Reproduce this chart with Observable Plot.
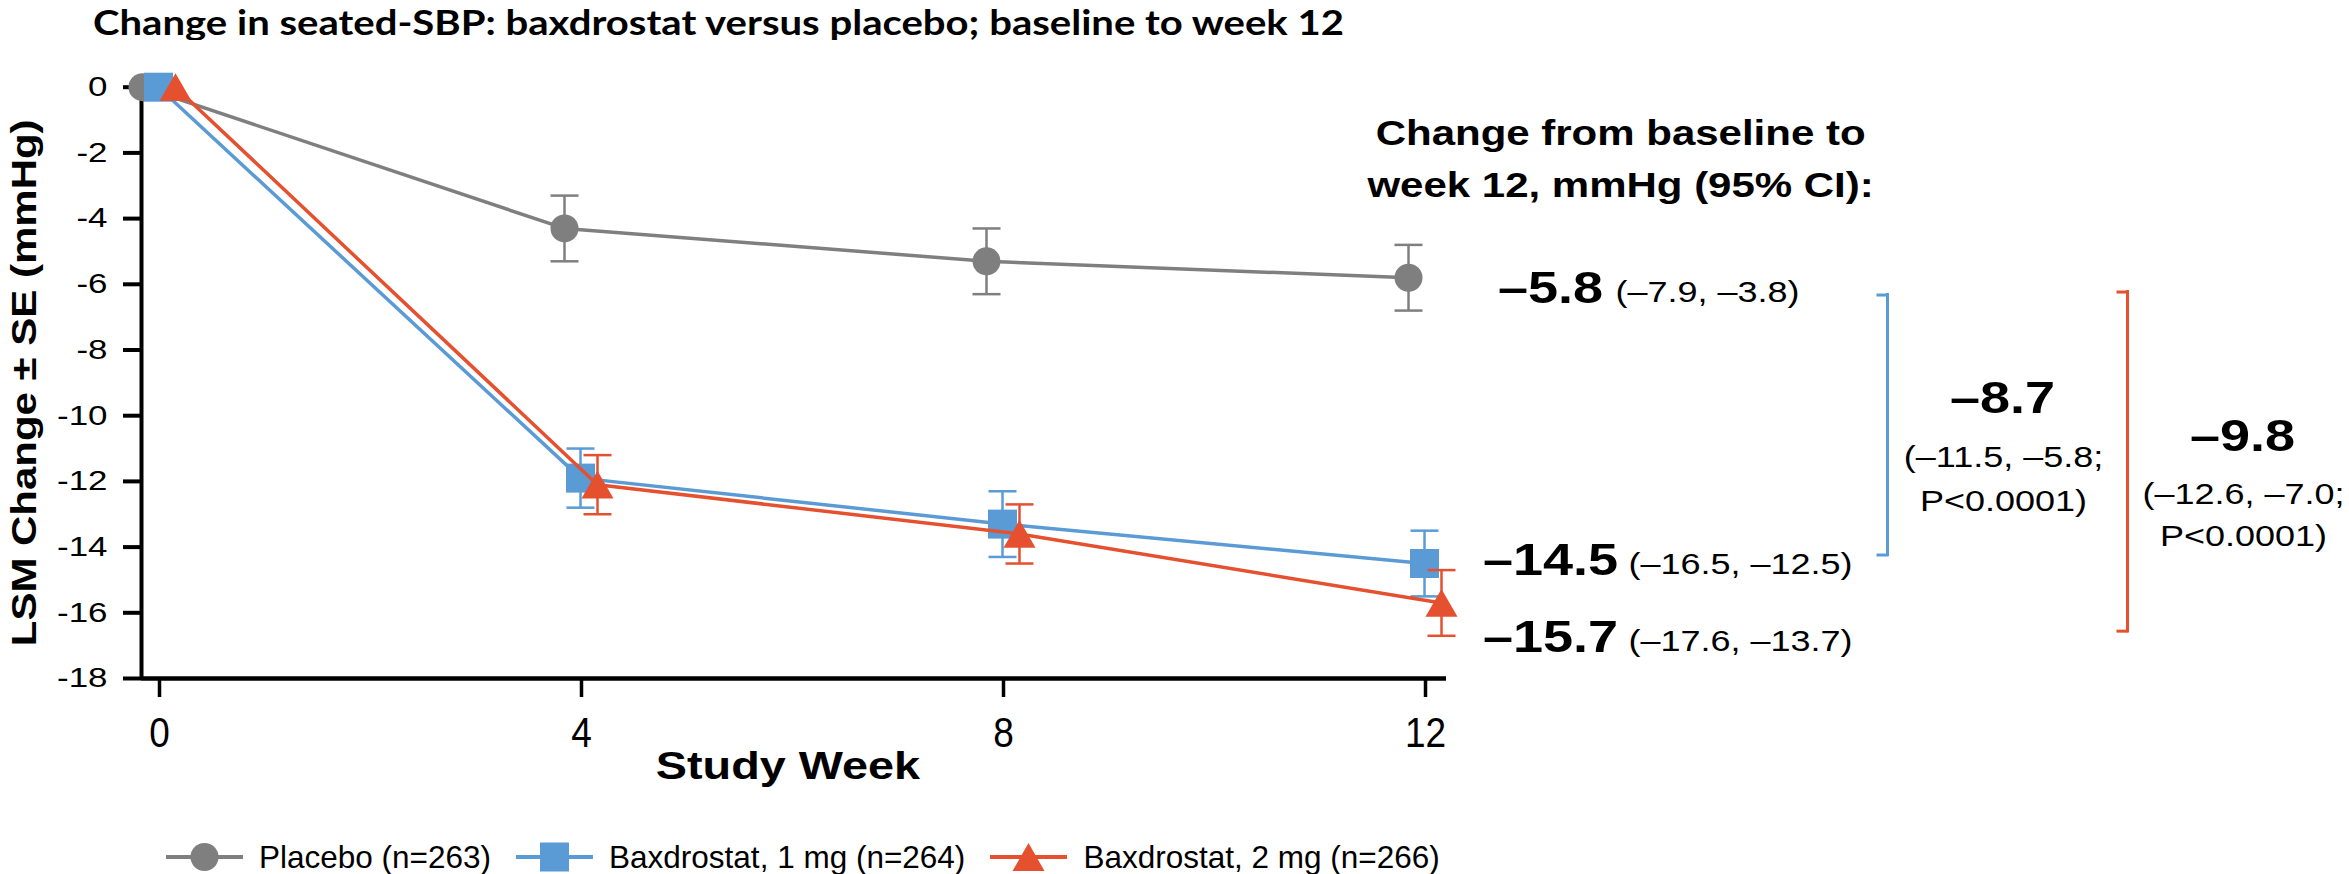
<!DOCTYPE html>
<html><head><meta charset="utf-8">
<script src="https://cdn.jsdelivr.net/npm/d3@7"></script>
<script src="https://cdn.jsdelivr.net/npm/@observablehq/plot@0.6"></script>
<style>
html,body{margin:0;padding:0;background:#fff;}
#wrap{position:relative;width:2349px;height:874px;overflow:hidden;font-family:'Liberation Sans',Arial,sans-serif;color:#000;}
#title{position:absolute;left:93px;top:0px;font-family:Lato,'Liberation Sans',sans-serif;font-weight:700;font-size:35px;line-height:42px;white-space:nowrap;transform-origin:0 0;}
#chart{position:absolute;left:0;top:40px;}
#legend{position:absolute;left:166px;top:837px;height:40px;display:flex;align-items:center;font-size:31.5px;white-space:nowrap;}
.item{display:flex;align-items:center;margin-right:25px;}
.item svg{margin-right:16px;display:block;}
</style></head><body>
<div id="wrap">
<div id="title">Change in seated-SBP: baxdrostat versus placebo; baseline to week 12</div>
<div id="chart"></div>
<div id="legend"></div>
</div>
<script>
// ---- data ----
const weeks = [0, 4, 8, 12];
const placeboLSM = [0, -4.3, -5.3, -5.8];
const placeboSE  = [0, 1.0, 1.0, 1.0];
const bax1LSM    = [0, -11.9, -13.3, -14.5];
const bax1SE     = [0, 0.9, 1.0, 1.0];
const bax2LSM    = [0, -12.1, -13.6, -15.7];
const bax2SE     = [0, 0.9, 0.9, 1.0];
const seriesNames = ["Placebo (n=263)", "Baxdrostat, 1 mg (n=264)", "Baxdrostat, 2 mg (n=266)"];
const week12CI = [[-7.9, -3.8], [-16.5, -12.5], [-17.6, -13.7]];
const diffVsPlacebo = [-8.7, -9.8];
const diffCI = [[-11.5, -5.8], [-12.6, -7.0]];
const diffP = ["P<0.0001", "P<0.0001"];
const yTicks = [0, -2, -4, -6, -8, -10, -12, -14, -16, -18];
const xTicks = [0, 4, 8, 12];
const headerText = "Change from baseline to\nweek 12, mmHg (95% CI):";
const xTitle = "Study Week";
const yTitle = "LSM Change ± SE (mmHg)";

// ---- styles ----
const colors = ["#7F7F7F", "#5B9BD5", "#E5502F"];
const symbols = ["circle", "square", "triangle"];
const radii = [14, 29 / Math.sqrt(Math.PI), 11.9];
const symDy = [0, 0, 4.6];
const offsets = [-17, -1, 16];

const lsm = [placeboLSM, bax1LSM, bax2LSM];
const se = [placeboSE, bax1SE, bax2SE];
const series = lsm.map((vals, s) => weeks.map((w, i) => ({
  week: w, value: vals[i], se: se[s][i], lo: vals[i] - se[s][i], hi: vals[i] + se[s][i]
})));

const fmt = d => (d < 0 ? "\u2013" : "") + Math.abs(d).toFixed(1);
const capSymbol = {draw(ctx, size) { const w = Math.sqrt(size); ctx.moveTo(-w / 2, 0); ctx.lineTo(w / 2, 0); }};
const capR = 28 / Math.sqrt(Math.PI);

const xDomain = [-0.1706, 12.199];
const lastWeek = weeks[weeks.length - 1];

// horizontal glyph stretch per text group (the reference uses wide/condensed faces)
const stretch = {"y-axis tick label": 1.27, "x-axis tick label": 0.88, "ytitle": 1.04, "xtitle": 1.09, "header": 1.2, "value": 1.1, "ci": 1.2};

const marks = [];
// axes
marks.push(Plot.ruleY([yTicks[yTicks.length - 1]], {stroke: "#000", strokeWidth: 4.5}));
marks.push(Plot.ruleX([xDomain[0]], {y1: yTicks[0], y2: yTicks[yTicks.length - 1], stroke: "#000", strokeWidth: 4}));
marks.push(Plot.axisY(yTicks, {tickSize: 18, tickPadding: 16, strokeWidth: 4, fontSize: 27.5, tickFormat: d => String(d), label: null}));
marks.push(Plot.axisX(xTicks, {tickSize: 19, tickPadding: 20, strokeWidth: 3.5, fontSize: 42, tickFormat: d => String(d), label: null}));
marks.push(Plot.text([yTitle], {ariaLabel: "ytitle", text: d => d, frameAnchor: "left", textAnchor: "middle", lineAnchor: "middle", rotate: -90, dx: -117, fontSize: 35, fontWeight: "bold"}));
marks.push(Plot.text([xTitle], {ariaLabel: "xtitle", text: d => d, frameAnchor: "bottom", textAnchor: "middle", lineAnchor: "middle", dx: -6, dy: 88, fontSize: 39, fontWeight: "bold"}));

// series
series.forEach((rows, s) => {
  const eb = rows.filter(d => d.se > 0);
  marks.push(Plot.ruleX(eb, {x: "week", y1: "lo", y2: "hi", dx: offsets[s], stroke: colors[s], strokeWidth: 2.5}));
  marks.push(Plot.dot(eb, {x: "week", y: "hi", dx: offsets[s], symbol: capSymbol, r: capR, fill: "none", stroke: colors[s], strokeWidth: 2.5}));
  marks.push(Plot.dot(eb, {x: "week", y: "lo", dx: offsets[s], symbol: capSymbol, r: capR, fill: "none", stroke: colors[s], strokeWidth: 2.5}));
  marks.push(Plot.line(rows, {x: "week", y: "value", dx: offsets[s], stroke: colors[s], strokeWidth: 3.5}));
  marks.push(Plot.dot(rows, {x: "week", y: "value", dx: offsets[s], dy: symDy[s], symbol: symbols[s], r: radii[s], fill: colors[s], stroke: "none"}));
});

// right-side annotations
marks.push(Plot.text([headerText], {ariaLabel: "header", text: d => d, x: lastWeek, y: 0, dx: 195, dy: 67, lineHeight: 1.5, fontSize: 35, fontWeight: "bold"}));
const labelDy = [11, -3, 34.5];
const ciDx = [190, 203, 203];
lsm.forEach((vals, s) => {
  const last = vals[vals.length - 1];
  marks.push(Plot.text([last], {ariaLabel: "value", x: lastWeek, y: d => d, text: d => fmt(d), dx: 125, dy: labelDy[s], fontSize: 45, fontWeight: "bold"}));
  marks.push(Plot.text([last], {ariaLabel: "ci", x: lastWeek, y: d => d, text: () => `(${fmt(week12CI[s][0])}, ${fmt(week12CI[s][1])})`, textAnchor: "start", dx: ciDx[s], dy: labelDy[s] + 4, fontSize: 30}));
});
const brackets = [
  {from: placeboLSM[3], to: bax1LSM[3], color: colors[1], dx: 462, insetTop: 15.8, insetBottom: 7, labelDy: 121, ciDy: 197, lh: 1.457},
  {from: placeboLSM[3], to: bax2LSM[3], color: colors[2], dx: 702, insetTop: 12.8, insetBottom: -29.7, labelDy: 159, ciDy: 234, lh: 1.4}
];
brackets.forEach((b, k) => {
  marks.push(Plot.ruleX([b], {x: lastWeek, y1: "from", y2: "to", dx: b.dx, insetTop: b.insetTop, insetBottom: b.insetBottom, stroke: b.color, strokeWidth: 3}));
  marks.push(Plot.ruleY([b], {y: "from", x1: lastWeek, x2: lastWeek, dx: b.dx + 1.5, dy: b.insetTop + 1.5, insetLeft: -12, stroke: b.color, strokeWidth: 3}));
  marks.push(Plot.ruleY([b], {y: "to", x1: lastWeek, x2: lastWeek, dx: b.dx + 1.5, dy: -b.insetBottom - 1.5, insetLeft: -12, stroke: b.color, strokeWidth: 3}));
  marks.push(Plot.text([b], {ariaLabel: "value", x: lastWeek, y: "from", text: () => fmt(diffVsPlacebo[k]), dx: b.dx + 115, dy: b.labelDy, fontSize: 45, fontWeight: "bold"}));
  marks.push(Plot.text([b], {ariaLabel: "ci", x: lastWeek, y: "from", text: () => `(${fmt(diffCI[k][0])}, ${fmt(diffCI[k][1])};\n${diffP[k]})`, dx: b.dx + 116, dy: b.ciDy, lineHeight: b.lh, fontSize: 30}));
});

const chart = Plot.plot({
  width: 2349, height: 780,
  marginLeft: 141, marginRight: 903, marginTop: 46.7, marginBottom: 142,
  x: {domain: xDomain},
  y: {domain: [-18, 0]},
  style: {fontFamily: "'Liberation Sans', Arial, sans-serif", background: "white", color: "#000", overflow: "visible"},
  marks
});
document.getElementById("chart").appendChild(chart);

// stretch glyphs horizontally about each text's anchor (in its local frame)
chart.querySelectorAll("text").forEach(t => {
  const g = t.closest("g[aria-label]");
  const label = g ? g.getAttribute("aria-label") : "";
  const k = stretch[label] !== undefined ? stretch[label] : 1.2;
  let bb;
  try { bb = t.getBBox(); } catch (e) { return; }
  if (!bb || !isFinite(bb.x) || !isFinite(bb.width) || bb.width === 0) return;
  const anchor = getComputedStyle(t).textAnchor;
  const ax = anchor === "end" ? bb.x + bb.width : anchor === "middle" ? bb.x + bb.width / 2 : bb.x;
  const tr = t.getAttribute("transform") || "";
  t.setAttribute("transform", `${tr} translate(${ax.toFixed(3)},0) scale(${k},1) translate(${(-ax).toFixed(3)},0)`.trim());
});

// title width fit
const title = document.getElementById("title");
const tw = title.getBoundingClientRect().width;
title.style.transform = `scaleX(${1251 / tw})`;

// legend
const legend = document.getElementById("legend");
seriesNames.forEach((name, s) => {
  const item = document.createElement("div");
  item.className = "item";
  const W = 77, H = 32, cx = W / 2, cy = H / 2;
  let shape;
  if (s === 0) shape = `<circle cx="${cx}" cy="${cy}" r="14" fill="${colors[s]}"/>`;
  else if (s === 1) shape = `<rect x="${cx - 14.5}" y="${cy - 14.5}" width="29" height="29" fill="${colors[s]}"/>`;
  else shape = `<path d="M${cx},${cy - 14}L${cx + 16},${cy + 14}L${cx - 16},${cy + 14}Z" fill="${colors[s]}"/>`;
  item.innerHTML = `<svg width="${W}" height="${H}"><line x1="0" x2="${W}" y1="${cy}" y2="${cy}" stroke="${colors[s]}" stroke-width="4"/>${shape}</svg><span>${name}</span>`;
  legend.appendChild(item);
});
</script>
</body></html>
